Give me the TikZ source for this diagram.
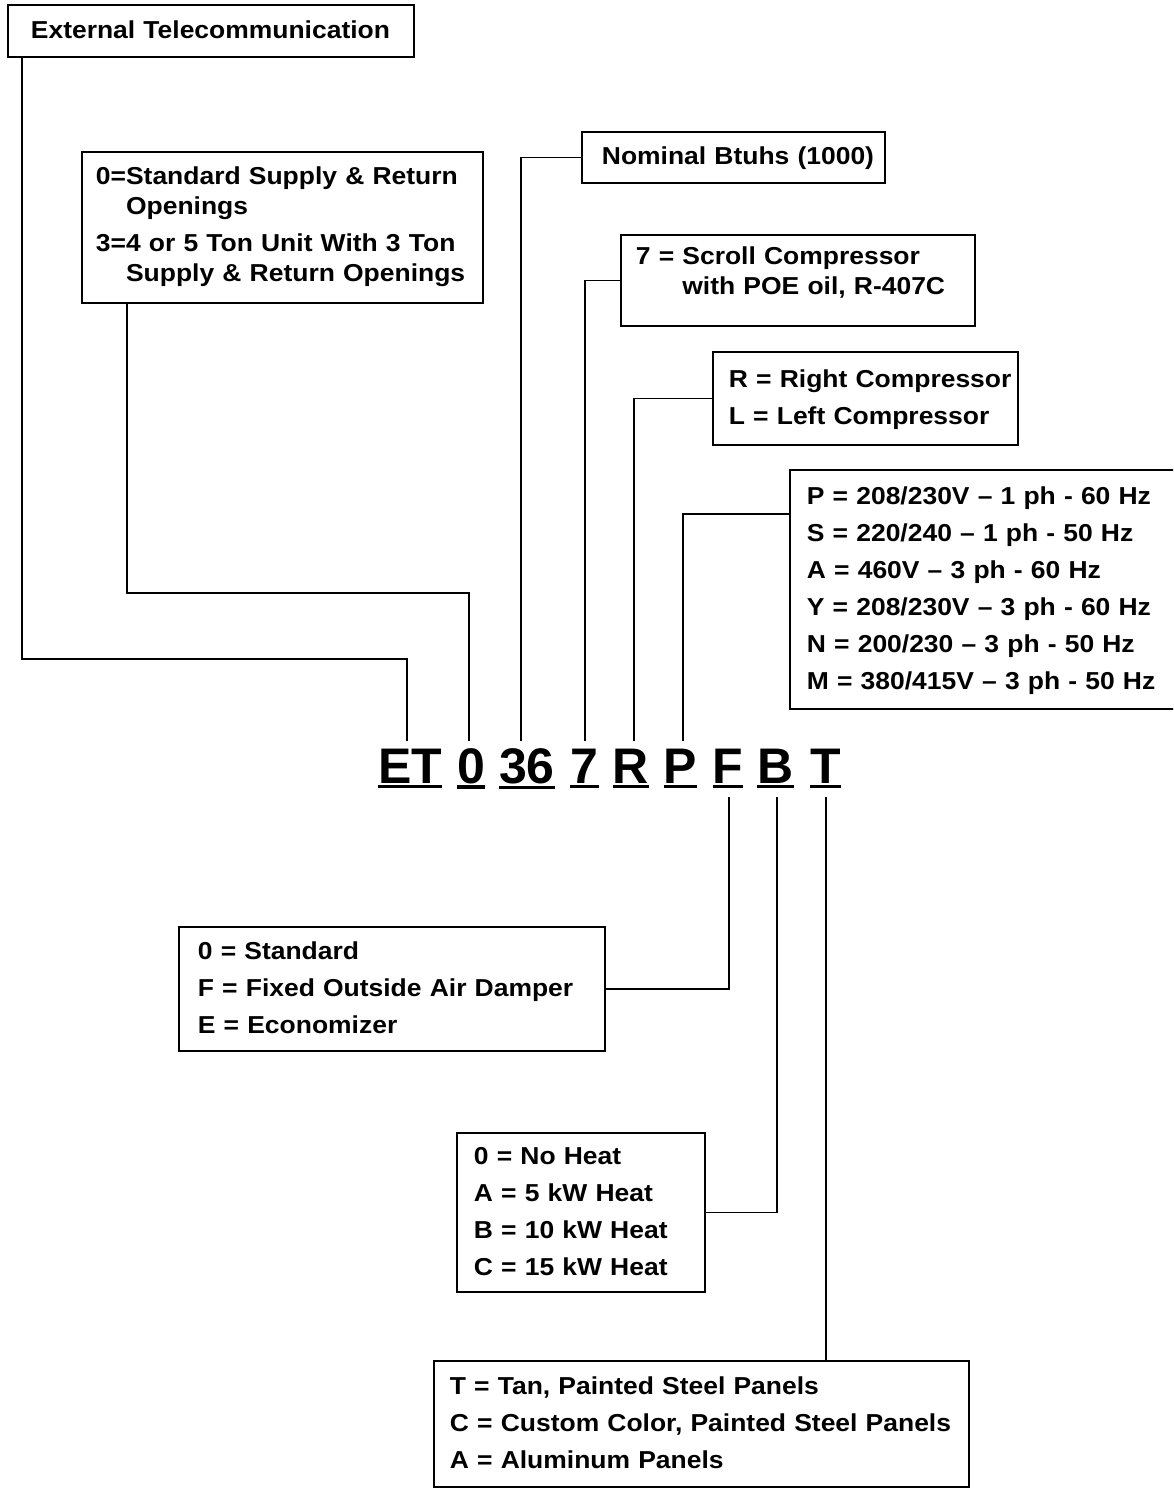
\documentclass[tikz,border=0pt]{standalone}
\usepackage{fontspec}
\setmainfont{Liberation Sans}[FakeStretch=1.08]
\newfontfamily\codefam{Liberation Sans}
\newcommand\boxlines[1]{\begin{tabular}{@{}l@{}}#1\end{tabular}}
\begin{document}
\begin{tikzpicture}[x=1pt,y=-1pt,
  box/.style={draw, line width=1.8pt, rectangle, anchor=north west, inner ysep=0pt, align=left},
  bfa/.style={font=\bfseries\fontsize{24.5}{37}\selectfont},
  bfb/.style={font=\bfseries\fontsize{24.5}{30}\selectfont},
  code/.style={font=\codefam\bfseries\fontsize{50}{60}\selectfont, inner sep=0pt, anchor=base},
  conn/.style={line width=1.8pt},
  uline/.style={line width=3.5pt}]
\useasboundingbox (0,0) rectangle (1173,1488);
\clip (0,0) rectangle (1173,1488);

% code letters
\node[code] (cET) at (410,783) {ET};
\node[code] (c0)  at (471,783) {0};
\node[code] (c36) at (527,783) {36};
\node[code] (c7)  at (584.5,783) {7};
\node[code] (cR)  at (631,783) {R};
\node[code] (cP)  at (680.5,783) {P};
\node[code] (cF)  at (728,783) {F};
\node[code] (cB)  at (775.5,783) {B};
\node[code] (cT)  at (825.5,783) {T};
\foreach \n in {cET,c0,c36,c7,cR,cP,cF,cB,cT}
  \draw[uline] ([yshift=-3.5pt]\n.south west) -- ([yshift=-3.5pt]\n.south east);

% boxes
\node[box,bfa,inner xsep=23pt,text width=360pt,minimum height=52pt] (tele) at (7,4)
  {\boxlines{External Telecommunication}};
\node[box,bfb,inner xsep=14pt,text width=373pt,minimum height=151pt] (open) at (81,151)
  {\boxlines{0=Standard Supply \& Return\\ \phantom{0=}Openings\\[7pt] 3=4 or 5 Ton Unit With 3 Ton\\ \phantom{3=}Supply \& Return Openings}};
\node[box,bfa,inner xsep=20pt,text width=263pt,minimum height=51pt] (nom) at (581,131)
  {\boxlines{Nominal Btuhs (1000)}};
\node[box,bfb,inner xsep=15pt,text width=324pt,minimum height=91pt] (scroll) at (620,234)
  {\boxlines{7 = Scroll Compressor\\ \phantom{7 = }with POE oil, R-407C\\[13pt]}};
\node[box,bfa,inner xsep=16pt,text width=273pt,minimum height=93pt] (rc) at (712,351)
  {\boxlines{R = Right Compressor\\ L = Left Compressor}};
\node[box,bfa,inner xsep=17pt,text width=366pt,minimum height=239pt] (volt) at (789,469)
  {\boxlines{P = 208/230V – 1 ph - 60 Hz\\ S = 220/240 – 1 ph - 50 Hz\\ A = 460V – 3 ph - 60 Hz\\ Y = 208/230V – 3 ph - 60 Hz\\ N = 200/230 – 3 ph - 50 Hz\\ M = 380/415V – 3 ph - 50 Hz}};
\node[box,bfa,inner xsep=19pt,text width=388pt,minimum height=124pt] (damp) at (178,926)
  {\boxlines{0 = Standard\\ F = Fixed Outside Air Damper\\ E = Economizer}};
\node[box,bfa,inner xsep=17pt,text width=214pt,minimum height=159pt] (heat) at (456,1132)
  {\boxlines{0 = No Heat\\ A = 5 kW Heat\\ B = 10 kW Heat\\ C = 15 kW Heat}};
\node[box,bfa,inner xsep=16pt,text width=503pt,minimum height=126pt] (panel) at (433,1360)
  {\boxlines{T = Tan, Painted Steel Panels\\ C = Custom Color, Painted Steel Panels\\ A = Aluminum Panels}};

% connectors
\draw[conn] ([xshift=15pt]tele.south west) -- ++(0,601) -| ([xshift=-3pt,yshift=7pt]cET.north);
\draw[conn] ([xshift=46pt]open.south west) -- ++(0,289) -| ([xshift=-2pt,yshift=7pt]c0.north);
\draw[conn] (nom.west) -| ([xshift=-6pt,yshift=7pt]c36.north);
\draw[conn] (scroll.west) -| ([xshift=0.5pt,yshift=7pt]c7.north);
\draw[conn] (rc.west) -| ([xshift=3pt,yshift=7pt]cR.north);
\draw[conn] ([yshift=-45pt]volt.north west) -| ([xshift=2.5pt,yshift=7pt]cP.north);
\draw[conn] (damp.east) -| ([xshift=1pt,yshift=-14pt]cF.south);
\draw[conn] (heat.east) -| ([xshift=1.5pt,yshift=-14pt]cB.south);
\draw[conn] ([xshift=0.5pt,yshift=-14pt]cT.south) -- ([xshift=0.5pt]cT.south |- panel.north);
\end{tikzpicture}
\end{document}
